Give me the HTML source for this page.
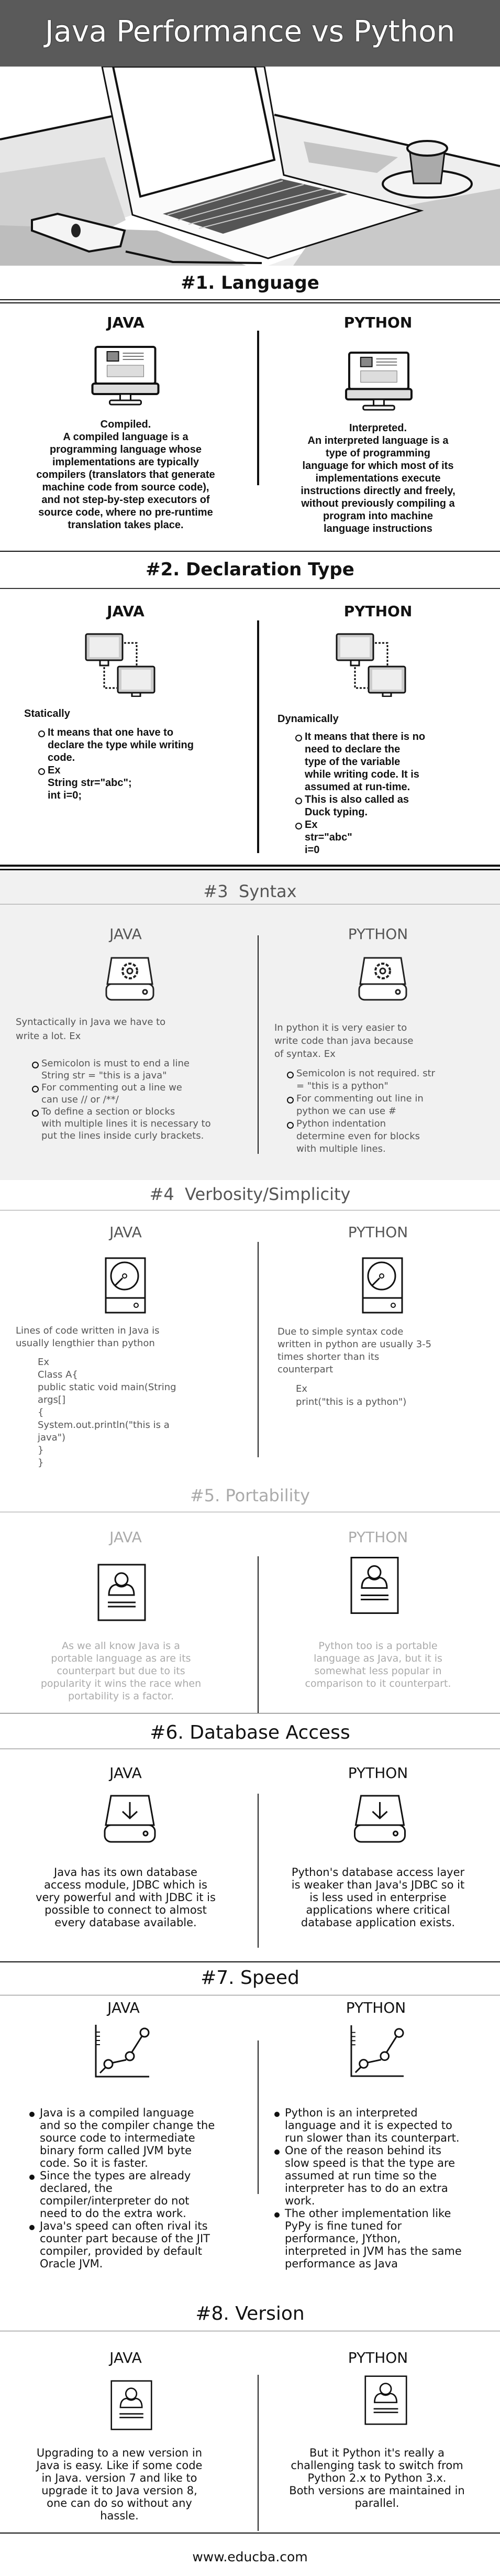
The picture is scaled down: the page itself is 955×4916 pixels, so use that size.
<!DOCTYPE html>
<html><head><meta charset="utf-8">
<style>
*{margin:0;padding:0;box-sizing:border-box}
body{width:955px;height:4916px;position:relative;background:#fff;font-family:"DejaVu Sans","Liberation Sans",sans-serif;color:#111;overflow:hidden}
.a{position:absolute}
.t{position:absolute;font-size:21px;line-height:24px;white-space:nowrap}
.b{position:absolute;font-family:"Liberation Sans",sans-serif;font-weight:bold;font-size:20px;line-height:24px;white-space:nowrap}
.cb{position:absolute;width:500px;text-align:center}
.h{position:absolute;left:0;width:955px;text-align:center;font-size:36px;line-height:40px;white-space:nowrap}
.c{position:absolute;width:300px;text-align:center;font-size:28px;line-height:32px}
.v{position:absolute;left:492px;width:2px;background:#222}
.ln{position:absolute;left:0;width:955px;height:2px;background:#777}
.g{color:#555}
.f{color:#aaa}
ul{list-style:none}
.bl{position:relative}
.bl:before{content:"";position:absolute;left:-18px;top:8px;width:9px;height:9px;border:2px solid #111;border-radius:50%}
.dt:before{content:"";position:absolute;left:-20px;top:10px;width:6px;height:6px;background:#111;border-radius:50%}
svg{position:absolute}
</style></head><body>

<!-- Title band -->
<div class="a" style="left:0;top:0;width:955px;height:130px;background:#5a5a5a"></div>
<div class="a" style="left:0;top:26px;width:955px;text-align:center;font-size:56px;line-height:70px;color:#fff;white-space:nowrap;text-shadow:0 0 2px #000">Java Performance vs Python</div>

<!-- Photo -->
<svg style="left:0;top:127px" width="955" height="380" viewBox="0 127 955 380">
<rect x="0" y="127" width="955" height="380" fill="#fff"/>
<polygon points="0,266 213,222 253,410 0,500" fill="#e6e6e6"/>
<polygon points="524,219 955,317 955,507 512,507 804,402 542,334" fill="#eeeeee"/>
<polygon points="0,330 200,300 240,420 120,480 0,460" fill="#cfcfcf"/>
<polygon points="0,430 300,440 470,507 0,507" fill="#bdbdbd"/>
<polygon points="620,420 955,360 955,507 560,507" fill="#c9c9c9"/>
<polygon points="580,270 760,300 720,330 590,310" fill="#c4c4c4"/>
<path d="M0 266 L213 222 M524 219 L955 317" stroke="#111" stroke-width="4" fill="none"/>
<polygon points="195,127 505,127 542,334 804,402 512,493 253,410" fill="#fafafa" stroke="#111" stroke-width="3"/>
<polygon points="216,127 487,127 524,305 268,375" fill="#fff" stroke="#111" stroke-width="4"/>
<polygon points="311,408 536,341 664,371 426,446" fill="#555"/>
<path d="M320 410 L540 345 M340 420 L580 352 M360 428 L620 360 M380 436 L650 366" stroke="#ccc" stroke-width="2"/>
<polygon points="61,420 110,408 238,440 230,470 170,480 61,440" fill="#f4f4f4" stroke="#111" stroke-width="4"/>
<ellipse cx="145" cy="440" rx="9" ry="13" fill="#222"/>
<ellipse cx="816" cy="351" rx="85" ry="26" fill="#f4f4f4" stroke="#111" stroke-width="4"/>
<path d="M782 283 L790 350 L842 350 L850 283 Z" fill="#aaa" stroke="#111" stroke-width="3"/>
<ellipse cx="816" cy="283" rx="38" ry="14" fill="#eee" stroke="#111" stroke-width="4"/>
<path d="M240 480 L330 500 L500 502" stroke="#111" stroke-width="4" fill="none"/>
</svg>

<!-- #1 Language -->
<div class="h" style="top:520px;font-weight:bold;font-size:34px">#1. Language</div>
<div class="a" style="left:0;top:571px;width:955px;height:2px;background:#111"></div>
<div class="a" style="left:0;top:577px;width:955px;height:2px;background:#111"></div>
<div class="c" style="left:90px;top:600px;font-weight:bold">JAVA</div>
<div class="c" style="left:572px;top:600px;font-weight:bold">PYTHON</div>
<div class="a" style="left:491px;top:631px;width:4px;height:295px;background:#111"></div>

<svg style="left:174px;top:659px" width="131" height="120" viewBox="0 0 130 120">
<rect x="8" y="3" width="114" height="70" rx="4" fill="#fff" stroke="#111" stroke-width="4"/>
<rect x="30" y="12" width="22" height="18" fill="#888" stroke="#111" stroke-width="2"/>
<path d="M60 15h40M60 21h40M60 27h40" stroke="#777" stroke-width="2"/>
<rect x="30" y="38" width="70" height="22" fill="#ddd" stroke="#777"/>
<rect x="2" y="73" width="126" height="20" rx="4" fill="#ddd" stroke="#111" stroke-width="4"/>
<rect x="55" y="93" width="20" height="14" fill="#fff" stroke="#111" stroke-width="3"/>
<rect x="35" y="105" width="60" height="8" rx="3" fill="#fff" stroke="#111" stroke-width="3"/>
</svg>
<svg style="left:655px;top:670px" width="137" height="119" viewBox="0 0 130 120">
<rect x="8" y="3" width="114" height="70" rx="4" fill="#fff" stroke="#111" stroke-width="4"/>
<rect x="30" y="12" width="22" height="18" fill="#888" stroke="#111" stroke-width="2"/>
<path d="M60 15h40M60 21h40M60 27h40" stroke="#777" stroke-width="2"/>
<rect x="30" y="38" width="70" height="22" fill="#ddd" stroke="#777"/>
<rect x="2" y="73" width="126" height="20" rx="4" fill="#ddd" stroke="#111" stroke-width="4"/>
<rect x="55" y="93" width="20" height="14" fill="#fff" stroke="#111" stroke-width="3"/>
<rect x="35" y="105" width="60" height="8" rx="3" fill="#fff" stroke="#111" stroke-width="3"/>
</svg>

<div class="b cb" style="left:-10px;top:798px">Compiled.<br>A compiled language is a<br>programming language whose<br>implementations are typically<br>compilers (translators that generate<br>machine code from source code),<br>and not step-by-step executors of<br>source code, where no pre-runtime<br>translation takes place.</div>
<div class="b cb" style="left:472px;top:805px">Interpreted.<br>An interpreted language is a<br>type of programming<br>language for which most of its<br>implementations execute<br>instructions directly and freely,<br>without previously compiling a<br>program into machine<br>language instructions</div>

<div class="a" style="left:0;top:1051px;width:955px;height:2px;background:#111"></div>

<!-- #2 Declaration -->
<div class="h" style="top:1067px;font-weight:bold;font-size:34px">#2. Declaration Type</div>
<div class="ln" style="top:1122px;background:#333"></div>
<div class="c" style="left:90px;top:1151px;font-weight:bold">JAVA</div>
<div class="c" style="left:572px;top:1151px;font-weight:bold">PYTHON</div>
<div class="a" style="left:491px;top:1184px;width:4px;height:444px;background:#111"></div>

<svg style="left:161px;top:1207px" width="137" height="123" viewBox="0 0 137 123">
<rect x="3" y="3" width="70" height="50" rx="3" fill="#ccc" stroke="#111" stroke-width="3"/>
<rect x="10" y="9" width="56" height="38" fill="#eee"/>
<rect x="30" y="53" width="16" height="10" fill="#fff" stroke="#111" stroke-width="3"/>
<rect x="64" y="65" width="70" height="50" rx="3" fill="#ccc" stroke="#111" stroke-width="3"/>
<rect x="71" y="71" width="56" height="38" fill="#eee"/>
<rect x="91" y="115" width="16" height="7" fill="#fff" stroke="#111" stroke-width="3"/>
<path d="M76 20h24v45M38 66v40h24" stroke="#111" stroke-width="3" stroke-dasharray="4 3" fill="none"/>
</svg>
<svg style="left:640px;top:1207px" width="137" height="123" viewBox="0 0 137 123">
<rect x="3" y="3" width="70" height="50" rx="3" fill="#ccc" stroke="#111" stroke-width="3"/>
<rect x="10" y="9" width="56" height="38" fill="#eee"/>
<rect x="30" y="53" width="16" height="10" fill="#fff" stroke="#111" stroke-width="3"/>
<rect x="64" y="65" width="70" height="50" rx="3" fill="#ccc" stroke="#111" stroke-width="3"/>
<rect x="71" y="71" width="56" height="38" fill="#eee"/>
<rect x="91" y="115" width="16" height="7" fill="#fff" stroke="#111" stroke-width="3"/>
<path d="M76 20h24v45M38 66v40h24" stroke="#111" stroke-width="3" stroke-dasharray="4 3" fill="none"/>
</svg>

<div class="b" style="left:46px;top:1350px">Statically</div>
<div class="b" style="left:91px;top:1386px"><ul><li class="bl">It means that one have to<br>declare the type while writing<br>code.</li><li class="bl">Ex<br>String str="abc";<br>int i=0;</li></ul></div>
<div class="b" style="left:530px;top:1360px">Dynamically</div>
<div class="b" style="left:582px;top:1394px"><ul><li class="bl">It means that there is no<br>need to declare the<br>type of the variable<br>while writing code. It is<br>assumed at run-time.</li><li class="bl">This is also called as<br>Duck typing.</li><li class="bl">Ex<br>str="abc"<br>i=0</li></ul></div>

<div class="a" style="left:0;top:1650px;width:955px;height:4px;background:#111"></div>
<div class="a" style="left:0;top:1658px;width:955px;height:3px;background:#111"></div>

<!-- #3 Syntax -->
<div class="a" style="left:0;top:1662px;width:955px;height:590px;background:#f1f1f1"></div>
<div class="h g" style="top:1681px;font-size:32px">#3&nbsp; Syntax</div>
<div class="ln" style="top:1725px;background:#999;height:1px"></div>
<div class="c g" style="left:90px;top:1767px">JAVA</div>
<div class="c g" style="left:572px;top:1767px">PYTHON</div>
<div class="v" style="top:1785px;height:417px"></div>
<svg style="left:201px;top:1823px" width="94" height="88" viewBox="0 0 94 88">
<path d="M12 5h70l8 50H4z" fill="#fff" stroke="#222" stroke-width="3"/>
<rect x="2" y="55" width="90" height="30" rx="10" fill="#fff" stroke="#222" stroke-width="3"/>
<circle cx="76" cy="70" r="4" fill="none" stroke="#222" stroke-width="3"/>
<circle cx="47" cy="30" r="14" fill="none" stroke="#222" stroke-width="4" stroke-dasharray="6 3"/>
<circle cx="47" cy="30" r="5" fill="none" stroke="#222" stroke-width="3"/>
</svg>
<svg style="left:682px;top:1823px" width="98" height="88" viewBox="0 0 94 88">
<path d="M12 5h70l8 50H4z" fill="#fff" stroke="#222" stroke-width="3"/>
<rect x="2" y="55" width="90" height="30" rx="10" fill="#fff" stroke="#222" stroke-width="3"/>
<circle cx="76" cy="70" r="4" fill="none" stroke="#222" stroke-width="3"/>
<circle cx="47" cy="30" r="14" fill="none" stroke="#222" stroke-width="4" stroke-dasharray="6 3"/>
<circle cx="47" cy="30" r="5" fill="none" stroke="#222" stroke-width="3"/>
</svg>
<div class="t g" style="left:30px;top:1937px;font-size:18px;line-height:27px">Syntactically in Java we have to<br>write a lot. Ex</div>
<div class="t g" style="left:79px;top:2018px;font-size:18px;line-height:23px"><ul><li class="bl">Semicolon is must to end a line<br>String str = "this is a java"</li><li class="bl">For commenting out a line we<br>can use // or /**/</li><li class="bl">To define a section or blocks<br>with multiple lines it is necessary to<br>put the lines inside curly brackets.</li></ul></div>
<div class="t g" style="left:524px;top:1949px;font-size:18px;line-height:25px">In python it is very easier to<br>write code than java because<br>of syntax. Ex</div>
<div class="t g" style="left:566px;top:2037px;font-size:18px;line-height:24px"><ul><li class="bl">Semicolon is not required. str<br>= "this is a python"</li><li class="bl">For commenting out line in<br>python we can use #</li><li class="bl">Python indentation<br>determine even for blocks<br>with multiple lines.</li></ul></div>

<!-- #4 Verbosity -->
<div class="h g" style="top:2259px;font-size:32px">#4&nbsp; Verbosity/Simplicity</div>
<div class="ln" style="top:2309px;background:#999;height:1px"></div>
<div class="c g" style="left:90px;top:2336px">JAVA</div>
<div class="c g" style="left:572px;top:2336px">PYTHON</div>
<div class="v" style="top:2370px;height:411px"></div>
<svg style="left:200px;top:2399px" width="79" height="108" viewBox="0 0 79 108">
<rect x="2" y="2" width="75" height="104" fill="#fff" stroke="#111" stroke-width="3"/>
<line x1="2" y1="78" x2="77" y2="78" stroke="#111" stroke-width="3"/>
<circle cx="38" cy="36" r="26" fill="none" stroke="#111" stroke-width="3"/>
<circle cx="38" cy="36" r="4" fill="none" stroke="#111" stroke-width="2"/>
<line x1="34" y1="40" x2="20" y2="54" stroke="#111" stroke-width="3"/>
<circle cx="60" cy="92" r="4" fill="none" stroke="#111" stroke-width="2"/>
</svg>
<svg style="left:691px;top:2399px" width="79" height="108" viewBox="0 0 79 108">
<rect x="2" y="2" width="75" height="104" fill="#fff" stroke="#111" stroke-width="3"/>
<line x1="2" y1="78" x2="77" y2="78" stroke="#111" stroke-width="3"/>
<circle cx="38" cy="36" r="26" fill="none" stroke="#111" stroke-width="3"/>
<circle cx="38" cy="36" r="4" fill="none" stroke="#111" stroke-width="2"/>
<line x1="34" y1="40" x2="20" y2="54" stroke="#111" stroke-width="3"/>
<circle cx="60" cy="92" r="4" fill="none" stroke="#111" stroke-width="2"/>
</svg>
<div class="t g" style="left:30px;top:2528px;font-size:18px;line-height:24px">Lines of code written in Java is<br>usually lengthier than python</div>
<div class="t g" style="left:72px;top:2588px;font-size:18px;line-height:24px">Ex<br>Class A{<br>public static void main(String<br>args[]<br>{<br>System.out.println("this is a<br>java")<br>}<br>}</div>
<div class="t g" style="left:530px;top:2530px;font-size:18px;line-height:24px">Due to simple syntax code<br>written in python are usually 3-5<br>times shorter than its<br>counterpart</div>
<div class="t g" style="left:565px;top:2638px;font-size:18px;line-height:25px">Ex<br>print("this is a python")</div>

<!-- #5 Portability -->
<div class="h f" style="top:2834px;font-size:32px">#5. Portability</div>
<div class="ln" style="top:2885px;background:#999;height:1px"></div>
<div class="c f" style="left:90px;top:2918px">JAVA</div>
<div class="c f" style="left:572px;top:2918px">PYTHON</div>
<div class="v" style="top:2970px;height:300px"></div>
<svg style="left:186px;top:2984px" width="93" height="110" viewBox="0 0 93 110">
<rect x="2" y="2" width="89" height="106" fill="#fff" stroke="#111" stroke-width="3"/>
<circle cx="46" cy="30" r="12" fill="none" stroke="#111" stroke-width="3"/>
<path d="M22 60 Q22 42 36 40 Q46 48 56 40 Q70 42 70 60 Z" fill="none" stroke="#111" stroke-width="3"/>
<path d="M20 74h53M20 82h53" stroke="#111" stroke-width="3"/>
</svg>
<svg style="left:669px;top:2970px" width="93" height="111" viewBox="0 0 93 110">
<rect x="2" y="2" width="89" height="106" fill="#fff" stroke="#111" stroke-width="3"/>
<circle cx="46" cy="30" r="12" fill="none" stroke="#111" stroke-width="3"/>
<path d="M22 60 Q22 42 36 40 Q46 48 56 40 Q70 42 70 60 Z" fill="none" stroke="#111" stroke-width="3"/>
<path d="M20 74h53M20 82h53" stroke="#111" stroke-width="3"/>
</svg>
<div class="t cb f" style="left:-19px;top:3129px;font-size:19px;line-height:24px">As we all know Java is a<br>portable language as are its<br>counterpart but due to its<br>popularity it wins the race when<br>portability is a factor.</div>
<div class="t cb f" style="left:472px;top:3129px;font-size:19px;line-height:24px">Python too is a portable<br>language as Java, but it is<br>somewhat less popular in<br>comparison to it counterpart.</div>
<div class="ln" style="top:3269px;background:#555;height:1px"></div>

<!-- #6 Database -->
<div class="h" style="top:3287px">#6. Database Access</div>
<div class="ln" style="top:3337px;background:#777;height:1px"></div>
<div class="c" style="left:90px;top:3368px">JAVA</div>
<div class="c" style="left:572px;top:3368px">PYTHON</div>
<div class="v" style="top:3423px;height:294px"></div>
<svg style="left:198px;top:3423px" width="100" height="96" viewBox="0 0 100 96">
<path d="M14 4h72l10 56H4z" fill="#fff" stroke="#111" stroke-width="3"/>
<rect x="2" y="60" width="96" height="32" rx="12" fill="#fff" stroke="#111" stroke-width="3"/>
<circle cx="80" cy="76" r="4" fill="none" stroke="#111" stroke-width="3"/>
<path d="M50 16v30M36 34l14 13 14-13" fill="none" stroke="#111" stroke-width="3"/>
</svg>
<svg style="left:675px;top:3423px" width="101" height="96" viewBox="0 0 100 96">
<path d="M14 4h72l10 56H4z" fill="#fff" stroke="#111" stroke-width="3"/>
<rect x="2" y="60" width="96" height="32" rx="12" fill="#fff" stroke="#111" stroke-width="3"/>
<circle cx="80" cy="76" r="4" fill="none" stroke="#111" stroke-width="3"/>
<path d="M50 16v30M36 34l14 13 14-13" fill="none" stroke="#111" stroke-width="3"/>
</svg>
<div class="t cb" style="left:-10px;top:3561px">Java has its own database<br>access module, JDBC which is<br>very powerful and with JDBC it is<br>possible to connect to almost<br>every database available.</div>
<div class="t cb" style="left:472px;top:3561px">Python's database access layer<br>is weaker than Java's JDBC so it<br>is less used in enterprise<br>applications where critical<br>database application exists.</div>
<div class="ln" style="top:3743px;background:#111"></div>

<!-- #7 Speed -->
<div class="h" style="top:3755px">#7. Speed</div>
<div class="ln" style="top:3807px;background:#777;height:1px"></div>
<div class="c" style="left:86px;top:3816px">JAVA</div>
<div class="c" style="left:568px;top:3816px">PYTHON</div>
<div class="v" style="top:3894px;height:293px"></div>
<svg style="left:181px;top:3864px" width="105" height="101" viewBox="0 0 105 101">
<path d="M2 0V99H104" fill="none" stroke="#111" stroke-width="3"/>
<path d="M2 14h8M2 22h8M2 30h8M2 38h8" stroke="#111" stroke-width="2"/>
<path d="M10 92L24 78M32 73L60 67M66 60L90 22" stroke="#111" stroke-width="3"/>
<circle cx="26" cy="75" r="8" fill="#fff" stroke="#111" stroke-width="3"/>
<circle cx="67" cy="60" r="8" fill="#fff" stroke="#111" stroke-width="3"/>
<circle cx="95" cy="15" r="8" fill="#fff" stroke="#111" stroke-width="3"/>
</svg>
<svg style="left:669px;top:3864px" width="103" height="101" viewBox="0 0 105 101">
<path d="M2 0V99H104" fill="none" stroke="#111" stroke-width="3"/>
<path d="M2 14h8M2 22h8M2 30h8M2 38h8" stroke="#111" stroke-width="2"/>
<path d="M10 92L24 78M32 73L60 67M66 60L90 22" stroke="#111" stroke-width="3"/>
<circle cx="26" cy="75" r="8" fill="#fff" stroke="#111" stroke-width="3"/>
<circle cx="67" cy="60" r="8" fill="#fff" stroke="#111" stroke-width="3"/>
<circle cx="95" cy="15" r="8" fill="#fff" stroke="#111" stroke-width="3"/>
</svg>
<div class="t" style="left:76px;top:4020px"><ul><li class="dt bl" style="position:relative">Java is a compiled language<br>and so the compiler change the<br>source code to intermediate<br>binary form called JVM byte<br>code. So it is faster.</li><li class="dt bl">Since the types are already<br>declared, the<br>compiler/interpreter do not<br>need to do the extra work.</li><li class="dt bl">Java's speed can often rival its<br>counter part because of the JIT<br>compiler, provided by default<br>Oracle JVM.</li></ul></div>
<div class="t" style="left:544px;top:4020px"><ul><li class="dt bl">Python is an interpreted<br>language and it is expected to<br>run slower than its counterpart.</li><li class="dt bl">One of the reason behind its<br>slow speed is that the type are<br>assumed at run time so the<br>interpreter has to do an extra<br>work.</li><li class="dt bl">The other implementation like<br>PyPy is fine tuned for<br>performance, JYthon,<br>interpreted in JVM has the same<br>performance as Java</li></ul></div>

<!-- #8 Version -->
<div class="h" style="top:4396px">#8. Version</div>
<div class="ln" style="top:4448px;background:#777;height:1px"></div>
<div class="c" style="left:90px;top:4484px">JAVA</div>
<div class="c" style="left:572px;top:4484px">PYTHON</div>
<div class="v" style="top:4532px;height:298px"></div>
<svg style="left:211px;top:4542px" width="80" height="96" viewBox="0 0 93 110" preserveAspectRatio="none">
<rect x="2" y="2" width="89" height="106" fill="#fff" stroke="#111" stroke-width="3"/>
<circle cx="46" cy="30" r="12" fill="none" stroke="#111" stroke-width="3"/>
<path d="M22 60 Q22 42 36 40 Q46 48 56 40 Q70 42 70 60 Z" fill="none" stroke="#111" stroke-width="3"/>
<path d="M20 74h53M20 82h53" stroke="#111" stroke-width="3"/>
</svg>
<svg style="left:696px;top:4533px" width="82" height="95" viewBox="0 0 93 110" preserveAspectRatio="none">
<rect x="2" y="2" width="89" height="106" fill="#fff" stroke="#111" stroke-width="3"/>
<circle cx="46" cy="30" r="12" fill="none" stroke="#111" stroke-width="3"/>
<path d="M22 60 Q22 42 36 40 Q46 48 56 40 Q70 42 70 60 Z" fill="none" stroke="#111" stroke-width="3"/>
<path d="M20 74h53M20 82h53" stroke="#111" stroke-width="3"/>
</svg>
<div class="t cb" style="left:-22px;top:4669px">Upgrading to a new version in<br>Java is easy. Like if some code<br>in Java. version 7 and like to<br>upgrade it to Java version 8,<br>one can do so without any<br>hassle.</div>
<div class="t cb" style="left:470px;top:4669px">But it Python it's really a<br>challenging task to switch from<br>Python 2.x to Python 3.x.<br>Both versions are maintained in<br>parallel.</div>
<div class="ln" style="top:4833px;background:#111"></div>
<div class="a" style="left:0;top:4864px;width:955px;text-align:center;font-size:25px;line-height:32px">www.educba.com</div>

</body></html>
